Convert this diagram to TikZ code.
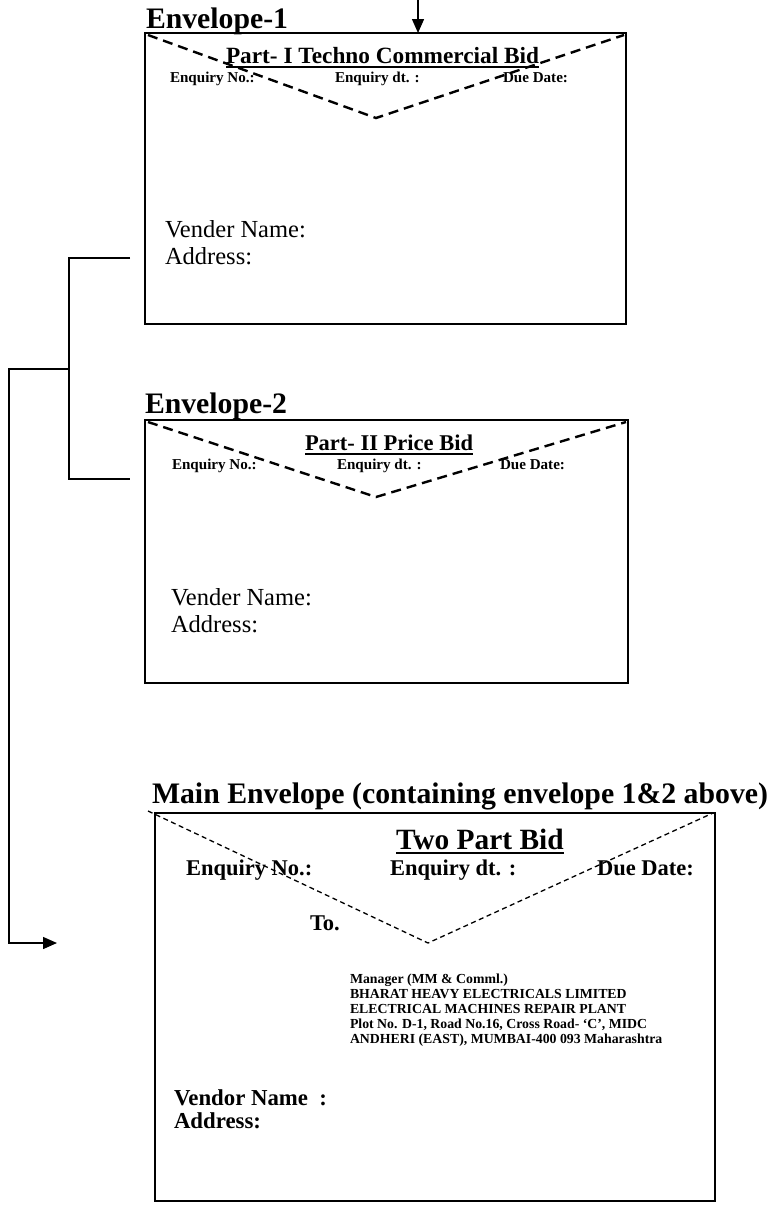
\documentclass[tikz,border=0pt]{standalone}
\usepackage{fontspec}
\setmainfont{Liberation Serif}
\usetikzlibrary{arrows.meta}
\newcommand{\fitw}[2]{\resizebox{#1pt}{!}{#2}}
\newcommand{\fsz}[1]{\fontsize{#1pt}{#1pt}\selectfont}
\begin{document}
\begin{tikzpicture}[x=1pt,y=-1pt,
  txt/.style={anchor=base west,inner sep=0pt,outer sep=0pt},
  frame/.style={draw,line width=1.6pt},
  flap/.style={line width=2.4pt,dash pattern=on 10pt off 6pt},
  flapthin/.style={line width=1.3pt,dash pattern=on 5pt off 3.5pt},
  conn/.style={line width=1.4pt},
  uline/.style={line width=1.4pt},
  tip/.style={-{Triangle[length=14pt,width=12pt]}}]
\useasboundingbox (0,0) rectangle (770,1210);

% ---------------- Envelope 1
\node[txt] (e1t) at (146,28) {\fitw{142}{\bfseries Envelope-1}};
\draw[frame] (145,33) rectangle (626,324);
\coordinate (e1a) at (148,35); \coordinate (e1b) at (376,118); \coordinate (e1c) at (624,35);
\draw[flap] (e1a) -- (e1b) -- (e1c);
\coordinate (intop) at (418,0); \coordinate (e1top) at (418,33);
\draw[conn,tip] (intop) -- (e1top);
\node[txt] (p1) at (226,63) {\fitw{313}{\bfseries Part- I Techno Commercial Bid}};
\draw[uline] ([yshift=-4pt]p1.base west) -- ([yshift=-4pt]p1.base east);
\node[txt] (e1n) at (170,82) {\fsz{15.1}\bfseries Enquiry No.:};
\node[txt] (e1d) at (335,82) {\fsz{15.1}\bfseries Enquiry dt. :};
\node[txt] (e1u) at (503,82) {\fsz{15.1}\bfseries Due Date:};
\node[txt] (e1v) at (165,237) {\fsz{24.5}Vender Name:};
\node[txt] (e1ad) at (165,264) {\fsz{24.5}Address:};

% ---------------- Envelope 2
\node[txt] (e2t) at (145,413) {\fitw{142}{\bfseries Envelope-2}};
\draw[frame] (145,420) rectangle (628,683);
\coordinate (e2a) at (148,422); \coordinate (e2b) at (376,497); \coordinate (e2c) at (626,422);
\draw[flap] (e2a) -- (e2b) -- (e2c);
\node[txt] (p2) at (305,450) {\fitw{168}{\bfseries Part- II Price Bid}};
\draw[uline] ([yshift=-4pt]p2.base west) -- ([yshift=-4pt]p2.base east);
\node[txt] (e2n) at (172,469) {\fsz{15.1}\bfseries Enquiry No.:};
\node[txt] (e2d) at (337,469) {\fsz{15.1}\bfseries Enquiry dt. :};
\node[txt] (e2u) at (500,469) {\fsz{15.1}\bfseries Due Date:};
\node[txt] (e2v) at (171,605) {\fsz{24.5}Vender Name:};
\node[txt] (e2ad) at (171,632) {\fsz{24.5}Address:};

% ---------------- Main envelope
\node[txt] (mt) at (152,803) {\fitw{616}{\bfseries Main Envelope (containing envelope 1\&2 above)}};
\draw[frame] (155,813) rectangle (715,1201);
\coordinate (ma) at (148,811); \coordinate (mb) at (428,943); \coordinate (mc) at (713,813);
\draw[flapthin] (ma) -- (mb) -- (mc);
\node[txt] (tp) at (396,849) {\fsz{29.4}\bfseries Two Part Bid};
\draw[uline] ([yshift=-4pt]tp.base west) -- ([yshift=-4pt]tp.base east);
\node[txt] (mn) at (186,875) {\fsz{22.5}\bfseries Enquiry No.:};
\node[txt] (md) at (390,875) {\fsz{22.5}\bfseries Enquiry dt. :};
\node[txt] (mu) at (597,875) {\fsz{22.5}\bfseries Due Date:};
\node[txt] (to) at (310,930) {\fsz{22.5}\bfseries To.};
\node[txt] (a1) at (350,983) {\fsz{13.8}\bfseries Manager (MM \& Comml.)};
\node[txt] (a2) at (350,998) {\fsz{13.8}\bfseries BHARAT HEAVY ELECTRICALS LIMITED};
\node[txt] (a3) at (350,1013) {\fsz{13.8}\bfseries ELECTRICAL MACHINES REPAIR PLANT};
\node[txt] (a4) at (350,1028) {\fsz{13.8}\bfseries Plot No. D-1, Road No.16, Cross Road- ‘C’, MIDC};
\node[txt] (a5) at (350,1043) {\fsz{13.8}\bfseries ANDHERI (EAST), MUMBAI-400 093 Maharashtra};
\node[txt] (mv) at (174,1105) {\fsz{22.8}\bfseries Vendor Name\ \ :};
\node[txt] (mad) at (174,1128) {\fsz{22.8}\bfseries Address:};

% ---------------- Connectors
\coordinate (c1) at (130,258);
\coordinate (c2) at (130,479);
\coordinate (j) at (69,369);
\coordinate (k) at (9,369);
\coordinate (mtip) at (57,943);
\draw[conn] (c1) -| (j) |- (c2);
\draw[conn,tip] (j) -- (k) |- (mtip);
\end{tikzpicture}
\end{document}
